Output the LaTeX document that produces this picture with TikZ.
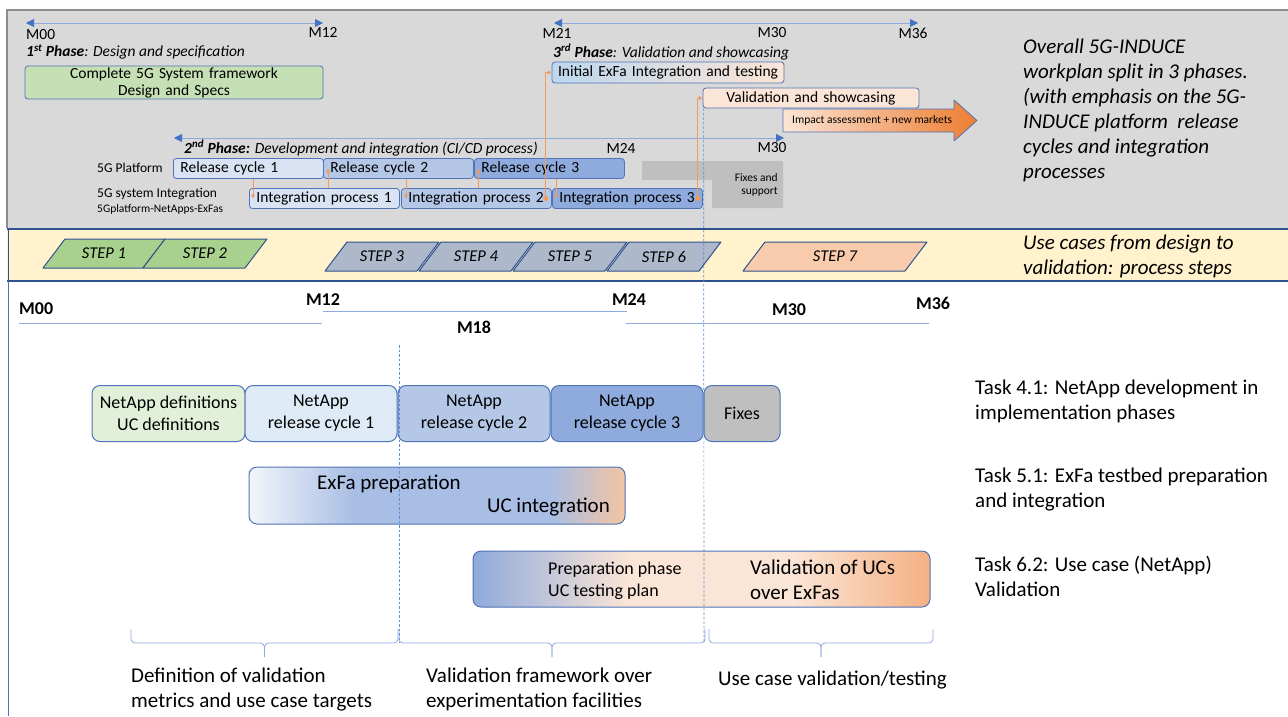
\documentclass[tikz,border=0pt]{standalone}
\usepackage{fontspec}
\setmainfont{Carlito}
\usetikzlibrary{
	arrows.meta,
	calc
}
\definecolor{PanelGray}{HTML}{D9D9D9}
\definecolor{FrameGray}{HTML}{8C8C8C}
\definecolor{BandYellow}{HTML}{FFF2CC}
\definecolor{StepEdge}{HTML}{2F528F}
\definecolor{EdgeBlue}{HTML}{4F74B8}
\definecolor{AxisLine}{HTML}{8FAADC}
\definecolor{TipBlue}{HTML}{4472C4}
\definecolor{GuideBlue}{HTML}{5B8FD6}
\definecolor{RelA}{HTML}{DAE3F3}
\definecolor{RelB}{HTML}{B4C7E7}
\definecolor{RelC}{HTML}{8FAADC}
\definecolor{RelLight}{HTML}{DEEBF7}
\definecolor{GreenA}{HTML}{C5E0B4}
\definecolor{GreenB}{HTML}{E2F0D9}
\definecolor{StepGreen}{HTML}{A9D18E}
\definecolor{StepGray}{HTML}{ADB9CA}
\definecolor{StepPeach}{HTML}{F8CBAD}
\definecolor{PeachL}{HTML}{FBE5D6}
\definecolor{PeachM}{HTML}{F4B183}
\definecolor{OrangeD}{HTML}{ED7D31}
\definecolor{FixGray}{HTML}{BFBFBF}
\definecolor{LinkOrange}{HTML}{F19C5E}
\definecolor{InitBlue}{HTML}{BDD7EE}
\definecolor{PrepWhite}{HTML}{F2F5FB}
\definecolor{PrepBlue}{HTML}{A9BEE4}
\definecolor{PrepPeach}{HTML}{F4C4A2}
\colorlet{BraceBlue}{AxisLine}
% gradients of the two long task bars (box spans 25bp..75bp)
\pgfdeclarehorizontalshading{prepshade}{100bp}{%
	color(0bp)=(PrepWhite); color(25bp)=(PrepWhite); color(39bp)=(PrepBlue);
	color(65bp)=(PrepBlue); color(75bp)=(PrepPeach); color(100bp)=(PrepPeach)}
\pgfdeclarehorizontalshading{valshade}{100bp}{%
	color(0bp)=(RelC); color(25bp)=(RelC); color(42bp)=(PeachL);
	color(60bp)=(PeachL); color(75bp)=(PeachM); color(100bp)=(PeachM)}
\newcommand{\fpx}[2]{\fontsize{#1}{#2}\selectfont}
\newcommand{\stepbox}[6]{%
	\filldraw[fill=#4, draw=StepEdge, line width=1pt]
	(#1,{#2+29}) -- ({#1+22},#2) -- ({#1+22+#3},#2) -- ({#1+#3},{#2+29}) -- cycle;
	\node[steptext] (#6) at ({#1+11+#3/2},{#2+14.5}) {#5};
}
\newcommand{\ucbrace}[2]{%
	\draw[BraceBlue, line width=0.8pt, rounded corners=4pt]
	(#1,629) -- (#1,643) -- ({(#1+#2)/2},643) -- ({(#1+#2)/2},657);
	\draw[BraceBlue, line width=0.8pt, rounded corners=4pt]
	(#2,629) -- (#2,643) -- ({(#1+#2)/2},643) -- ({(#1+#2)/2},657);
}

\begin{document}
\begin{tikzpicture}[x=1pt, y=-1pt, line join=round,
	phase/.style={AxisLine, line width=0.9pt,
		{Triangle[color=TipBlue,length=8pt,width=8pt]}-{Triangle[color=TipBlue,length=8pt,width=8pt]}},
	link/.style={LinkOrange, line width=0.8pt, -{Triangle[length=4pt,width=4pt]}},
	relbox/.style={draw=EdgeBlue, line width=0.8pt, rounded corners=3pt, minimum height=20pt,
		inner xsep=7pt, inner ysep=0pt, text width=136pt, align=left, font=\fpx{15.5}{17}},
	taskbox/.style={draw=EdgeBlue, line width=1pt, rounded corners=8pt, minimum height=56pt,
		align=center, font=\fpx{18}{22}},
	lbl/.style={inner sep=0pt, font=\fpx{15.5}{17}},
	mlbl/.style={inner sep=0pt, font=\fpx{18}{20}\bfseries},
	note/.style={inner sep=0pt, anchor=north west, align=left, font=\fpx{21}{25}},
	steptext/.style={inner sep=0pt, font=\fpx{16.5}{18}\itshape},
	tline/.style={AxisLine, line width=1pt},
	guide/.style={GuideBlue, line width=0.7pt, dash pattern=on 2.5pt off 2pt},
	]
	\useasboundingbox (0,0) rectangle (1288,716);
	
	% -- Panels ------------------------------------------------------
	\fill[PanelGray] (7,10) rectangle (1288,228);
	\draw[FrameGray, line width=1.2pt] (7,228) -- (7,10) -- (1288,10);
	\fill[BandYellow] (7,229) rectangle (1288,281);
	\draw[StepEdge, line width=1.5pt] (7,229) -- (1288,229);
	\draw[StepEdge, line width=1.5pt] (7,281) -- (1288,281);
	\draw[StepEdge, line width=1pt] (8,229) -- (8,281);
	\draw[EdgeBlue, line width=0.8pt] (8,281) -- (8,716);
	
	% -- 1st phase ---------------------------------------------------
	\draw[phase] (26,23) -- (323,23);
	\node[lbl, anchor=west] (pAm00) at (26,35) {M00};
	\node[lbl] (pAm12) at (323,32) {M12};
	\node[lbl, anchor=west] (pAtitle) at (26,52)
	{\itshape\textbf{1\textsuperscript{st} Phase}: Design and specification};
	\node[relbox, fill=GreenA, text width=284pt, align=center, minimum height=33pt]
	(design) at (174,82.5) {Complete 5G System framework\\Design and Specs};
	
	% -- 2nd phase ---------------------------------------------------
	\draw[phase] (174,138) -- (784,138);
	\node[lbl, anchor=west] (pBtitle) at (184,148)
	{\itshape\textbf{2\textsuperscript{nd} Phase:} Development and integration (CI/CD process)};
	\node[lbl] (pBm24) at (621,148) {M24};
	\node[lbl] (pBm30) at (772,148) {M30};
	
	\node[lbl, anchor=west, font=\fpx{13.5}{15}] (platLbl) at (97,168) {5G Platform};
	\node[lbl, anchor=west, font=\fpx{13.5}{15}] (intLbl) at (97,194) {5G system Integration};
	\node[lbl, anchor=west, font=\fpx{11.5}{13}] (intSub) at (97,209) {5Gplatform-NetApps-ExFas};
	
	\node[relbox, fill=RelA, anchor=west] (relA) at (173,168.5) {Release cycle 1};
	\node[relbox, fill=RelB, anchor=west] (relB) at (323,168.5) {Release cycle 2};
	\node[relbox, fill=RelC, anchor=west] (relC) at (474,168.5) {Release cycle 3};
	\node[relbox, fill=RelA, anchor=west] (intA) at (249,198.5) {Integration process 1};
	\node[relbox, fill=RelB, anchor=west] (intB) at (401,198.5) {Integration process 2};
	\node[relbox, fill=RelC, anchor=west] (intC) at (552,198.5) {Integration process 3};
	
	% fixes and support block
	\fill[FixGray] (642,161) -- (783,161) -- (783,208) -- (712,208) -- (712,180) -- (642,180) -- cycle;
	\node[lbl, font=\fpx{11.5}{13}, align=right, anchor=east] (fixSup) at (778,184.5) {Fixes and\\support};
	
	% -- 3rd phase ---------------------------------------------------
	\draw[phase] (554,23) -- (918,23);
	\node[lbl] (pCm21) at (557,33) {M21};
	\node[lbl] (pCm30) at (772,33) {M30};
	\node[lbl] (pCm36) at (913,33) {M36};
	\node[lbl, anchor=west] (pCtitle) at (553,52)
	{\itshape\textbf{3\textsuperscript{rd} Phase}: Validation and showcasing};
	\node[relbox, left color=InitBlue, right color=PeachL, inner xsep=3pt, text width=226pt,
	align=center, minimum height=21pt] (initx) at (668,72.5) {Initial ExFa Integration and testing};
	\node[relbox, fill=PeachL, text width=202pt, align=center] (valid) at (811,98) {Validation and showcasing};
	
	\shade[left color=PeachL, right color=OrangeD, draw=EdgeBlue, line width=0.8pt]
	(783,109) -- (954,109) -- (954,100) -- (977,120.5) -- (954,141) -- (954,132) -- (783,132) -- cycle;
	\node[lbl, anchor=west, font=\fpx{11.5}{13}] (impact) at (792,120.5) {Impact assessment + new markets};
	
	% release <-> integration hand-overs
	\draw[link] ([xshift=4pt]intA.west |- relA.south) -- ([xshift=4pt]intA.west);
	\draw[link] ([xshift=5pt]relB.west |- intA.north) -- ([xshift=5pt]relB.west);
	\draw[link] ([xshift=5pt]intB.west |- relB.south) -- ([xshift=5pt]intB.west);
	\draw[link] ([xshift=4pt]relC.west |- intB.north) -- ([xshift=4pt]relC.west);
	\draw[link] ([xshift=4pt]intC.west |- relC.south) -- ([xshift=4pt]intC.west);
	\fill[LinkOrange] ([xshift=-6pt]intB.east) circle (2.5pt);
	\draw[link] ([xshift=-6pt]intB.east) |- (initx.west);
	\fill[LinkOrange] ([xshift=-5pt]intC.east) circle (2.5pt);
	\draw[link] ([xshift=-5pt]intC.east) |- (valid.west);
	
	\node[note, font=\fpx{21}{25}\itshape] (overall) at (1023,39)
	{Overall 5G-INDUCE\\workplan split in 3 phases.\\(with emphasis on the 5G-\\INDUCE platform~ release\\cycles and integration\\processes};
	
	% -- Process steps band -----------------------------------------
	\stepbox{43}{239}{100}{StepGreen}{STEP 1}{stA}
	\stepbox{143}{239}{102}{StepGreen}{STEP 2}{stB}
	\stepbox{325}{242}{92}{StepGray}{STEP 3}{stC}
	\stepbox{419}{242}{92}{StepGray}{STEP 4}{stD}
	\stepbox{513}{242}{92}{StepGray}{STEP 5}{stE}
	\stepbox{607}{242}{92}{StepGray}{STEP 6}{stF}
	\stepbox{743}{242}{162}{StepPeach}{STEP 7}{stG}
	\node[note, font=\fpx{21}{25}\itshape] (usecases) at (1023,235)
	{Use cases from design to\\validation: process steps};
	
	% -- Lower timeline ---------------------------------------------
	\node[mlbl, anchor=west] (bM00) at (19,309) {M00};
	\node[mlbl] (bM12) at (323,300) {M12};
	\node[mlbl] (bM18) at (474,327) {M18};
	\node[mlbl] (bM24) at (629,300) {M24};
	\node[mlbl] (bM30) at (789,310) {M30};
	\node[mlbl] (bM36) at (933,303) {M36};
	\draw[tline] (19,323) -- (322,323);
	\draw[tline] (323,311) -- (627,311);
	\draw[tline] (626,323) -- (929,323);
	
	% Task 4.1 row
	\node[taskbox, fill=GreenB, minimum width=153pt] (defs) at (168.5,413.5) {NetApp definitions\\UC definitions};
	\node[taskbox, fill=RelLight, minimum width=152pt] (nrcA) at (321,413.5) {NetApp\\release cycle 1};
	\node[taskbox, fill=RelB, minimum width=152pt] (nrcB) at (474,413.5) {NetApp\\release cycle 2};
	\node[taskbox, fill=RelC, minimum width=152pt] (nrcC) at (627,413.5) {NetApp\\release cycle 3};
	\node[taskbox, fill=FixGray, minimum width=76pt] (fixes) at (742,413.5) {Fixes};
	
	% Task 5.1 row
	\node[taskbox, shade, shading=prepshade, minimum width=376pt, minimum height=57pt] (prep) at (437,495.5) {};
	\node[lbl, font=\fpx{21}{25}, anchor=west] (prepA) at (317,484) {ExFa preparation};
	\node[lbl, font=\fpx{21}{25}, anchor=east] (prepB) at (610,507) {UC integration};
	
	% Task 6.2 row
	\node[taskbox, shade, shading=valshade, minimum width=457pt] (uval) at (701.5,579) {};
	\node[lbl, font=\fpx{18}{22}, align=left, anchor=north west] (uvalA) at (548,562)
	{Preparation phase\\UC testing plan};
	\node[lbl, font=\fpx{21}{25}, align=left, anchor=north west] (uvalB) at (750,560)
	{Validation of UCs\\over ExFas};
	
	\node[note] (task41) at (975,380) {Task 4.1: NetApp development in\\implementation phases};
	\node[note] (task51) at (975,468) {Task 5.1: ExFa testbed preparation\\and integration};
	\node[note] (task62) at (975,556) {Task 6.2: Use case (NetApp)\\Validation};
	
	% -- Braces and their captions ----------------------------------
	\ucbrace{131}{398}
	\ucbrace{399}{705}
	\ucbrace{709}{933}
	\node[note] (capA) at (131,668) {Definition of validation\\metrics and use case targets};
	\node[note] (capB) at (426,668) {Validation framework over\\experimentation facilities};
	\node[lbl, font=\fpx{21}{25}, anchor=west] (capC) at (718,680) {Use case validation/testing};
	
	% -- Milestone guides -------------------------------------------
	\coordinate (gAtop) at (399,345);
	\coordinate (gAend) at (399,643);
	\coordinate (gBend) at (704,643);
	\draw[guide] (gAtop) -- (gAend);
	\draw[guide] ([xshift=1pt]valid.south west) -- (gBend);
	
\end{tikzpicture}
\end{document}
